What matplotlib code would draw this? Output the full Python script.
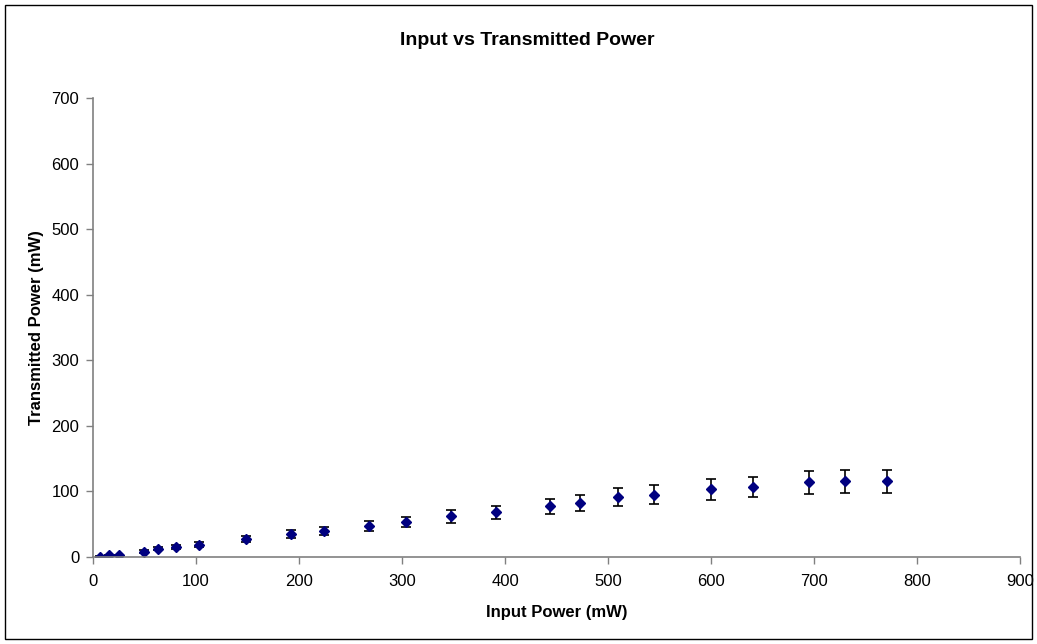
import numpy as np
import matplotlib
matplotlib.use("Agg")
import matplotlib.pyplot as plt
from matplotlib.patches import Rectangle

plt.rcParams['font.family'] = ['Liberation Sans', 'DejaVu Sans']

# values
input_power = [6.8, 15.8, 25.2, 49.5, 63.4, 80.3, 103.2, 148.2, 192.6, 224.0,
               268.3, 303.9, 347.6, 391.3, 443.7, 473.0, 510.0, 545.0, 599.7,
               640.5, 695.1, 730.0, 771.2]
transmitted = [0.5, 2.6, 2.6, 8.0, 12.7, 15.2, 18.8, 27.0, 35.0, 39.1,
               47.8, 53.4, 62.0, 68.0, 77.7, 82.3, 91.0, 95.0, 103.0,
               107.0, 113.8, 115.8, 115.8]
errors = [0.5, 1.0, 1.0, 2.0, 2.5, 3.0, 3.5, 4.5, 6.0, 6.0,
          7.4, 8.0, 9.7, 10.0, 11.4, 12.2, 13.5, 14.2, 15.5,
          15.5, 17.8, 17.5, 17.5]

fig = plt.figure(figsize=(10.37, 6.44), dpi=100)
ax = fig.add_axes([0.0897, 0.1351, 0.8939, 0.7127])

# outer chart border
fig.patches.append(Rectangle((5 / 1037, 5 / 644), 1027 / 1037, 634 / 644,
                             transform=fig.transFigure, fill=False,
                             edgecolor='black', linewidth=1))

ax.errorbar(input_power, transmitted, yerr=errors, fmt='D', color='#000080',
            markersize=5.5, ecolor='black', elinewidth=1.2, capsize=3.7,
            capthick=1.2)

ax.set_xlim(0, 900)
ax.set_ylim(0, 700)
ax.set_xticks(np.arange(0, 901, 100))
ax.set_yticks(np.arange(0, 701, 100))

for side in ['top', 'right']:
    ax.spines[side].set_visible(False)
for side in ['left', 'bottom']:
    ax.spines[side].set_color('#808080')
    ax.spines[side].set_linewidth(1.2)
ax.tick_params(direction='out', length=5, width=1, color='#808080',
               labelsize=12)
ax.tick_params(axis='x', pad=7)
ax.tick_params(axis='y', pad=5)

ax.set_title('Input vs Transmitted Power', fontsize=14, fontweight='bold',
             x=0.468, pad=38)
ax.set_xlabel('Input Power (mW)', fontsize=12, fontweight='bold', labelpad=12)
ax.set_ylabel('Transmitted Power (mW)', fontsize=12, fontweight='bold', labelpad=5)

fig.savefig('out.png', dpi=100)
